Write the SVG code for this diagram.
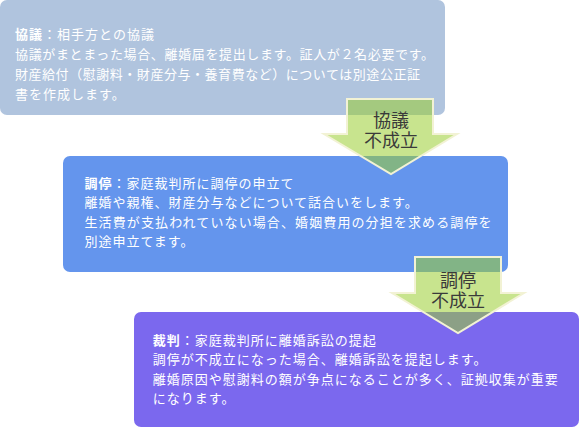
<svg xmlns="http://www.w3.org/2000/svg" width="588" height="428" viewBox="0 0 588 428">
<style>
.body{font-family:"Noto Sans CJK JP","Noto Sans",sans-serif;font-size:13px;letter-spacing:1px;fill:#ffffff}
.b{font-weight:bold}
.fit{letter-spacing:0}
.arrow{fill:#9acd32;fill-opacity:0.55;stroke:#f2f2d4;stroke-width:2;stroke-linejoin:miter}
.lbl{font-family:"Noto Sans CJK JP","Noto Sans",sans-serif;font-size:18px;fill:#3a3a3a;text-anchor:middle}
</style>
<rect width="588" height="428" fill="#ffffff"/>
<g id="node-kyogi">
<rect x="0" y="0" width="445" height="115" rx="7" fill="#b0c4de"/>
<text class="body" x="15" y="38.5"><tspan class="b">協議</tspan>：相手方との協議</text>
<text class="body fit" x="15" y="58.5" textLength="419" lengthAdjust="spacing">協議がまとまった場合、離婚届を提出します。証人が２名必要です。</text>
<text class="body fit" x="15" y="78.5" textLength="405" lengthAdjust="spacing">財産給付（慰謝料・財産分与・養育費など）については別途公正証</text>
<text class="body" x="15" y="98.5">書を作成します。</text>
</g>
<g id="node-chotei">
<rect x="63" y="156" width="445" height="116" rx="7" fill="#6495ed"/>
<text class="body" x="84.5" y="188"><tspan class="b">調停</tspan>：家庭裁判所に調停の申立て</text>
<text class="body" x="84.5" y="207.3">離婚や親権、財産分与などについて話合いをします。</text>
<text class="body fit" x="84.5" y="226.6" textLength="407" lengthAdjust="spacing">生活費が支払われていない場合、婚姻費用の分担を求める調停を</text>
<text class="body" x="84.5" y="245.9">別途申立てます。</text>
</g>
<g id="node-saiban">
<rect x="134" y="312" width="445" height="115" rx="7" fill="#7b68ee"/>
<text class="body" x="152.7" y="345"><tspan class="b">裁判</tspan>：家庭裁判所に離婚訴訟の提起</text>
<text class="body" x="152.7" y="364.3">調停が不成立になった場合、離婚訴訟を提起します。</text>
<text class="body" x="152.7" y="383.6">離婚原因や慰謝料の額が争点になることが多く、証拠収集が重要</text>
<text class="body" x="152.7" y="402.9">になります。</text>
</g>
<g id="connectors">
<g id="arrow-1">
<polygon class="arrow" points="347,99 433,99 433,134 457,134 391,174 324,134 347,134"/>
<text class="lbl" x="391" y="127">協議<tspan x="391" dy="20">不成立</tspan></text>
</g>
<g id="arrow-2">
<polygon class="arrow" points="415,257 501,257 501,293 524,293 458,333 392,293 415,293"/>
<text class="lbl" x="458" y="287">調停<tspan x="458" dy="19.5">不成立</tspan></text>
</g>
</g>
</svg>
